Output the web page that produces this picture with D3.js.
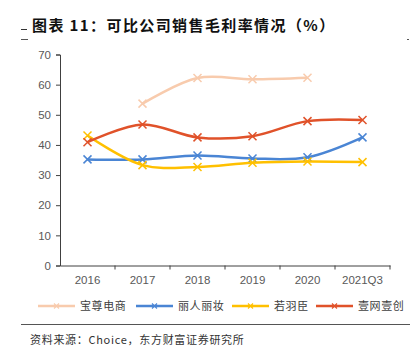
<!DOCTYPE html>
<html><head><meta charset="utf-8">
<script src="https://cdn.jsdelivr.net/npm/d3@7"></script>
<style>body{margin:0;background:#fff}svg{display:block}</style>
</head><body>
<svg id="c" width="410" height="355"></svg>
<script>
const categories = ["2016","2017","2018","2019","2020","2021Q3"];
const seriesNames = ["宝尊电商","丽人丽妆","若羽臣","壹网壹创"];
const baozun = [null,53.7,62.2,61.8,62.3,null];
const liren = [35.2,35.2,36.5,35.5,35.9,42.5];
const ruoyu = [43.1,33.3,32.7,34.1,34.5,34.3];
const yiwang = [40.9,46.8,42.5,42.9,47.9,48.3];
const yTicks = [0,10,20,30,40,50,60,70];
const colors = ["#F8CBAD","#4A85D4","#FFC000","#E0522A"];
const seriesValues = [baozun, liren, ruoyu, yiwang];

const svg = d3.select("#c");
const font = "'Noto Sans CJK SC', sans-serif";

svg.append("text").attr("x",32).attr("y",31).attr("font-family",font)
  .attr("font-size",15).attr("font-weight","bold").attr("fill","#111")
  .attr("letter-spacing",1.4)
  .text("图表 11：可比公司销售毛利率情况（%）");
svg.append("line").attr("x1",21).attr("x2",27).attr("y1",29.5).attr("y2",29.5).attr("stroke","#333");
svg.append("line").attr("x1",21).attr("x2",28).attr("y1",39.5).attr("y2",39.5).attr("stroke","#555");
svg.append("line").attr("x1",407).attr("x2",409).attr("y1",39.5).attr("y2",39.5).attr("stroke","#555");

const x = d3.scaleBand().domain(categories).range([60,390]);
const y = d3.scaleLinear().domain([0,70]).range([265.5,54.5]);

const yAxis = svg.append("g").attr("transform","translate(60,0)")
  .call(d3.axisLeft(y).tickValues(yTicks).tickSize(4).tickPadding(5));
yAxis.select(".domain").attr("stroke","#404040");
yAxis.selectAll(".tick line").attr("stroke","#404040");
yAxis.selectAll("text").attr("font-family","'Liberation Sans', Arial, sans-serif").attr("font-size",11.5).attr("fill","#595959");

const xAxis = svg.append("g").attr("transform","translate(0,265.5)")
  .call(d3.axisBottom(x).tickSize(0).tickPadding(10));
xAxis.select(".domain").attr("stroke","#404040");
xAxis.selectAll("text").attr("font-family","'Liberation Sans', Arial, sans-serif").attr("font-size",11.5).attr("fill","#595959");
xAxis.selectAll(".sep").data(categories).enter().append("line")
  .attr("x1",d=>x(d)+x.bandwidth()).attr("x2",d=>x(d)+x.bandwidth())
  .attr("y1",0).attr("y2",4).attr("stroke","#404040");

const line = d3.line().defined(d=>d.v!=null)
  .x(d=>x(d.c)+x.bandwidth()/2).y(d=>y(d.v)).curve(d3.curveCatmullRom.alpha(0.5));

seriesValues.forEach((vals,i)=>{
  const data = vals.map((v,j)=>({c:categories[j],v}));
  const g = svg.append("g");
  g.append("path").datum(data.filter(d=>d.v!=null)).attr("d",line)
    .attr("fill","none").attr("stroke",colors[i]).attr("stroke-width",2.5);
  g.selectAll("path.m").data(data.filter(d=>d.v!=null)).enter().append("path")
    .attr("class","m")
    .attr("d",d=>{const cx=x(d.c)+x.bandwidth()/2, cy=y(d.v), r=4;
      return `M${cx-r},${cy-r}L${cx+r},${cy+r}M${cx-r},${cy+r}L${cx+r},${cy-r}`;})
    .attr("stroke",colors[i]).attr("stroke-width",1.5).attr("fill","none");
});

const legX = [38,136,232,316];
seriesNames.forEach((n,i)=>{
  const g = svg.append("g").attr("transform",`translate(${legX[i]},306)`);
  g.append("line").attr("x1",0).attr("x2",37).attr("stroke",colors[i]).attr("stroke-width",2.5);
  g.append("path").attr("d","M16,-2.5L21,2.5M16,2.5L21,-2.5").attr("stroke",colors[i]).attr("stroke-width",1.2);
  g.append("text").attr("x",42).attr("y",4).attr("font-family",font).attr("font-size",11)
    .attr("letter-spacing",0.6).attr("fill","#404040").text(n);
});

svg.append("line").attr("x1",21).attr("x2",410).attr("y1",324.5).attr("y2",324.5).attr("stroke","#555").attr("stroke-width",1.2);
svg.append("text").attr("x",30).attr("y",344).attr("font-family",font).attr("font-size",11)
  .attr("letter-spacing",0.7).attr("fill","#333").text("资料来源：Choice，东方财富证券研究所");
</script>
</body></html>
